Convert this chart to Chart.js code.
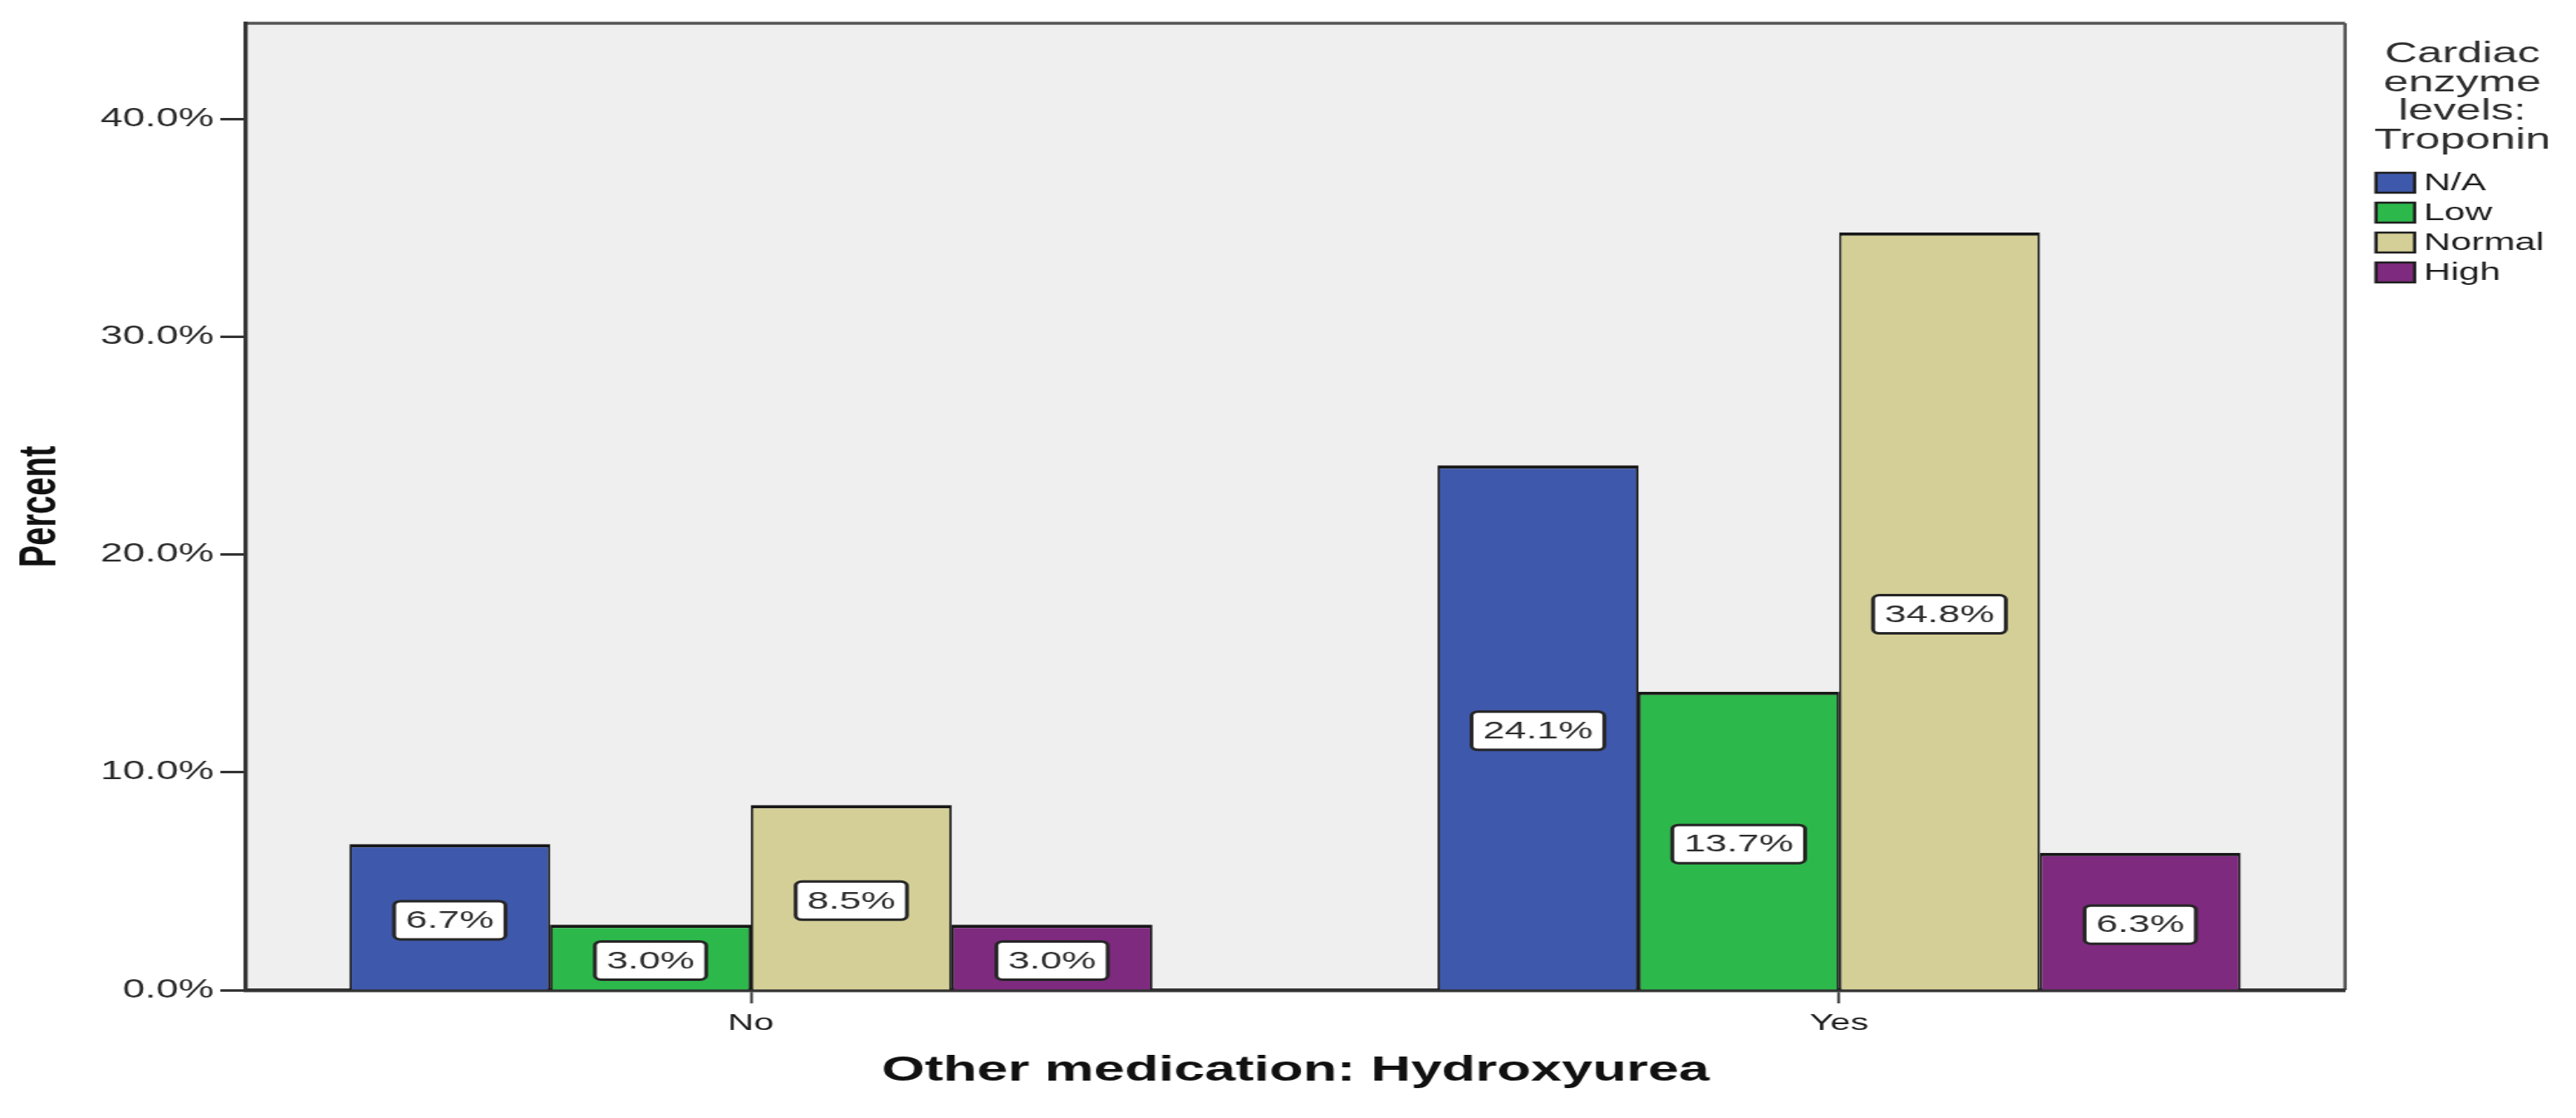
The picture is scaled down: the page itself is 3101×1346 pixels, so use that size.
<!DOCTYPE html>
<html>
<head>
<meta charset="utf-8">
<title>Troponin by Hydroxyurea</title>
<script src="https://cdn.jsdelivr.net/npm/chart.js@4.4.1/dist/chart.umd.min.js"></script>
<style>
  html, body { margin: 0; padding: 0; background: #fff; overflow: hidden; }
  /* the source picture is stretched sideways, so draw narrow and stretch it the same way */
  #wrap { width: 2000px; height: 1346px; transform: scaleX(1.5505); transform-origin: 0 0; }
</style>
</head>
<body>
<div id="wrap"><canvas id="troponinChart" width="2000" height="1346"></canvas></div>
<script>
// chart data
const categories = ['No', 'Yes'];
const seriesNames = ['N/A', 'Low', 'Normal', 'High'];
const naValues = [6.7, 24.1];
const lowValues = [3.0, 13.7];
const normalValues = [8.5, 34.8];
const highValues = [3.0, 6.3];
const yTicks = [0, 10, 20, 30, 40];
const legendTitle = ['Cardiac', 'enzyme', 'levels:', 'Troponin'];
const xTitle = 'Other medication: Hydroxyurea';
const yTitle = 'Percent';

const seriesValues = [naValues, lowValues, normalValues, highValues];
const seriesColors = ['#3e58ab', '#2db84b', '#d4cf97', '#7e2a7f'];

Chart.defaults.font.family = '"Liberation Sans", Arial, sans-serif';

// grey plot box with the thin top / right frame
const plotBackground = {
    id: 'plotBackground',
    beforeDraw(chart) {
        const { ctx, chartArea: a } = chart;
        ctx.save();
        ctx.fillStyle = '#efefef';
        ctx.fillRect(a.left, a.top, a.right - a.left, a.bottom - a.top);
        ctx.strokeStyle = '#555';
        ctx.lineWidth = 3.5;
        ctx.beginPath();
        ctx.moveTo(a.left, a.top);
        ctx.lineTo(a.right, a.top);
        ctx.stroke();
        ctx.lineWidth = 2.6;
        ctx.beginPath();
        ctx.moveTo(a.right, a.top);
        ctx.lineTo(a.right, a.bottom);
        ctx.stroke();
        ctx.restore();
    }
};

// boxed percent labels in the middle of each bar
const valueLabels = {
    id: 'valueLabels',
    afterDatasetsDraw(chart) {
        const ctx = chart.ctx;
        ctx.save();
        ctx.font = '30px "Liberation Sans", Arial, sans-serif';
        ctx.textAlign = 'center';
        ctx.textBaseline = 'middle';
        chart.data.datasets.forEach((ds, i) => {
            chart.getDatasetMeta(i).data.forEach((bar, j) => {
                const text = ds.data[j].y.toFixed(1) + '%';
                const w = ctx.measureText(text).width + 18;
                const h = 46;
                const cx = bar.x;
                const cy = (bar.y + bar.base) / 2 + 4;
                ctx.beginPath();
                ctx.roundRect(cx - w / 2, cy - h / 2, w, h, 5);
                ctx.fillStyle = '#fff';
                ctx.fill();
                ctx.lineWidth = 3;
                ctx.strokeStyle = '#262626';
                ctx.stroke();
                ctx.fillStyle = '#2e2e2e';
                ctx.fillText(text, cx, cy + 1);
            });
        });
        ctx.restore();
    }
};

// legend on the right, title centred above the swatches
const sideLegend = {
    id: 'sideLegend',
    afterDraw(chart) {
        const ctx = chart.ctx;
        const left = chart.chartArea.right + 24;
        ctx.save();
        ctx.fillStyle = '#2e2e2e';
        ctx.textAlign = 'center';
        ctx.textBaseline = 'alphabetic';
        ctx.font = '35px "Liberation Sans", Arial, sans-serif';
        legendTitle.forEach((line, i) => {
            ctx.fillText(line, left + 67, 75 + i * 34.5);
        });
        ctx.font = '29px "Liberation Sans", Arial, sans-serif';
        ctx.textAlign = 'left';
        ctx.textBaseline = 'middle';
        chart.data.datasets.forEach((ds, i) => {
            const cy = 220 + i * 36;
            ctx.fillStyle = ds.backgroundColor;
            ctx.fillRect(left, cy - 12, 30, 24);
            ctx.lineWidth = 2.5;
            ctx.strokeStyle = '#1e1e1e';
            ctx.strokeRect(left, cy - 12, 30, 24);
            ctx.fillStyle = '#1e1e1e';
            ctx.fillText(ds.label, left + 37, cy + 1);
        });
        ctx.restore();
    }
};

new Chart(document.getElementById('troponinChart'), {
    type: 'bar',
    data: {
        datasets: seriesNames.map((name, i) => ({
            label: name,
            data: seriesValues[i].map((v, j) => ({ x: j, y: v })),
            backgroundColor: seriesColors[i],
            borderColor: '#161616',
            borderWidth: { top: 4, left: 1.8, right: 1.8, bottom: 0 },
            borderSkipped: false,
            categoryPercentage: 0.738,
            barPercentage: 1
        }))
    },
    options: {
        responsive: false,
        animation: false,
        devicePixelRatio: 1,
        layout: { padding: { top: 28, right: 179.3, bottom: 0, left: 0 } },
        plugins: {
            legend: { display: false },
            tooltip: { enabled: false }
        },
        scales: {
            x: {
                type: 'linear',
                offset: false,
                min: -0.464,
                max: 1.465,
                afterBuildTicks: s => { s.ticks = categories.map((c, i) => ({ value: i })); },
                afterFit: s => { s.height = 154; },
                ticks: {
                    callback: v => categories[v],
                    font: { size: 28, lineHeight: 1 },
                    color: '#1e1e1e',
                    padding: 10,
                    maxRotation: 0
                },
                grid: { offset: false, drawOnChartArea: false, tickLength: 16, tickWidth: 2, tickColor: '#333' },
                border: { color: '#333', width: 4.5 },
                title: {
                    display: true,
                    text: xTitle,
                    font: { size: 43, weight: 'bold', lineHeight: 1 },
                    color: '#111',
                    padding: { top: 0, bottom: 35.5 }
                }
            },
            y: {
                min: 0,
                max: 44.4,
                afterBuildTicks: s => { s.ticks = yTicks.map(v => ({ value: v })); },
                afterFit: s => { s.width = 191; },
                ticks: {
                    callback: v => v.toFixed(1) + '%',
                    font: { size: 31 },
                    color: '#2a2a2a',
                    padding: 5
                },
                grid: { drawOnChartArea: false, tickLength: 20, tickWidth: 3, tickColor: '#333' },
                border: { color: '#333', width: 3.3 },
                title: {
                    display: true,
                    text: yTitle,
                    font: { size: 40, weight: 'bold', lineHeight: 1 },
                    color: '#111',
                    padding: { top: 11.5, bottom: 0 }
                }
            }
        }
    },
    plugins: [plotBackground, valueLabels, sideLegend]
});
</script>
</body>
</html>
